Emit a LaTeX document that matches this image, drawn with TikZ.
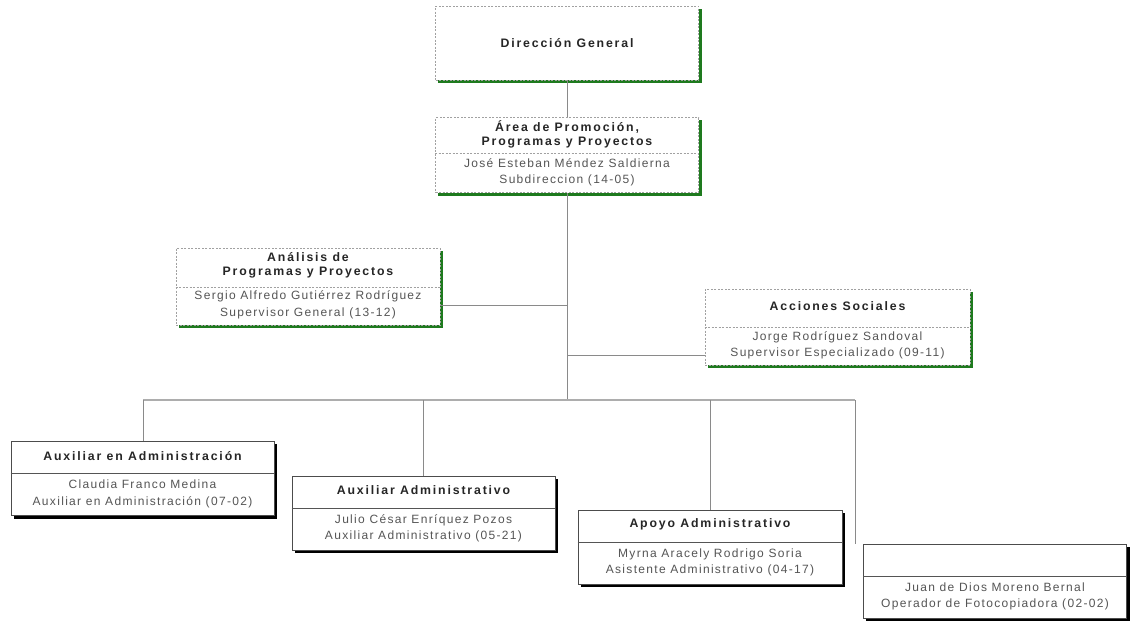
\documentclass[tikz,border=0pt]{standalone}
\usepackage{fontspec}
\setmainfont{Liberation Sans}
\newfontfamily\ttlfont[LetterSpace=15]{Liberation Sans}
\newfontfamily\nmfont[LetterSpace=11]{Liberation Sans}
\usetikzlibrary{calc}
\pgfdeclarelayer{bg}
\pgfsetlayers{bg,main}
\definecolor{shgreen}{HTML}{1E7A1E}
\definecolor{linegray}{HTML}{8A8A8A}
\definecolor{txtgray}{HTML}{555555}
\tikzset{
  dbox/.style={draw=linegray!80, dash pattern=on 2pt off 1.5pt, line width=0.7pt, fill=white},
  sbox/.style={draw=txtgray!90!black, line width=0.8pt, fill=white},
  gshadow/.style={fill=shgreen},
  kshadow/.style={fill=black},
  ttl/.style={font=\ttlfont\fontsize{12.3}{14}\selectfont\bfseries, text=black!85, align=center, inner sep=0},
  nm/.style={font=\nmfont\fontsize{12}{16.5}\selectfont, text=txtgray, align=center, inner sep=0},
  conn/.style={draw=linegray, line width=1pt},
  bus/.style={draw=linegray!70, line width=2pt},
  ddiv/.style={draw=linegray!80, dash pattern=on 2pt off 1.5pt, line width=0.6pt},
  sdiv/.style={draw=txtgray, line width=0.7pt}
}
\begin{document}
\begin{tikzpicture}[x=1pt,y=-1pt]
\useasboundingbox (0,0) rectangle (1131,621);
% boxes
\node[dbox, minimum width=263pt, minimum height=74pt] (dg) at (567,43) {};
\node[ttl] (dgt) at (567,43) {Dirección General};

\node[dbox, minimum width=263pt, minimum height=75pt] (ap) at (567,155) {};
\node[ttl] (apt) at (567,134) {Área de Promoción,\\Programas y Proyectos};
\node[nm] (apn) at (567,172.5) {José Esteban Méndez Saldierna\\Subdireccion (14-05)};

\node[dbox, minimum width=264pt, minimum height=77pt] (an) at (308,286.5) {};
\node[ttl] (ant) at (308,265) {Análisis de\\Programas y Proyectos};
\node[nm] (ann) at (308,305) {Sergio Alfredo Gutiérrez Rodríguez\\Supervisor General (13-12)};

\node[dbox, minimum width=265pt, minimum height=76pt] (as) at (837.5,327) {};
\node[ttl] (ast) at (837.5,306) {Acciones Sociales};
\node[nm] (asn) at (837.5,345.5) {Jorge Rodríguez Sandoval\\Supervisor Especializado (09-11)};

\node[sbox, minimum width=263pt, minimum height=74pt] (b1) at (142.5,478.5) {};
\node[ttl] (b1t) at (142.5,456) {Auxiliar  en Administración};
\node[nm] (b1n) at (142.5,494) {Claudia Franco Medina\\Auxiliar  en Administración (07-02)};

\node[sbox, minimum width=263pt, minimum height=74pt] (b2) at (423.5,513) {};
\node[ttl] (b2t) at (423.5,490) {Auxiliar  Administrativo};
\node[nm] (b2n) at (423.5,528.5) {Julio César Enríquez Pozos\\Auxiliar Administrativo (05-21)};

\node[sbox, minimum width=264pt, minimum height=74pt] (b3) at (710,547) {};
\node[ttl] (b3t) at (710,524) {Apoyo  Administrativo};
\node[nm] (b3n) at (710,562.5) {Myrna Aracely Rodrigo Soria\\Asistente Administrativo (04-17)};

\node[sbox, minimum width=263pt, minimum height=74pt] (b4) at (995,581) {};
\node[nm] (b4n) at (995,596.5) {Juan de Dios Moreno  Bernal\\Operador de Fotocopiadora (02-02)};

% shadows
\begin{pgfonlayer}{bg}
\foreach \b in {dg,ap,an,as}
  \fill[gshadow] ($(\b.south west)+(3,3)$) rectangle ($(\b.north east)+(3,3)$);
\foreach \b in {b1,b2,b3,b4}
  \fill[kshadow] ($(\b.south west)+(3,3)$) rectangle ($(\b.north east)+(3,3)$);
\end{pgfonlayer}

% dividers
\draw[ddiv] (ap.west |- 0,153) -- (ap.east |- 0,153);
\draw[ddiv] (an.west |- 0,287) -- (an.east |- 0,287);
\draw[ddiv] (as.west |- 0,327) -- (as.east |- 0,327);
\draw[sdiv] (b1.west |- 0,473) -- (b1.east |- 0,473);
\draw[sdiv] (b2.west |- 0,508) -- (b2.east |- 0,508);
\draw[sdiv] (b3.west |- 0,542) -- (b3.east |- 0,542);
\draw[sdiv] (b4.west |- 0,576) -- (b4.east |- 0,576);

% connectors
\coordinate (hub) at (567,400);
\coordinate (bl) at (143,400);
\coordinate (br) at (855,400);
\draw[conn] (dg.south) -- (ap.north);
\draw[conn] (ap.south) -- (hub);
\draw[conn] (an.east |- 0,305) -- (hub |- 0,305);
\draw[conn] (hub |- 0,355) -- (as.west |- 0,355);
\draw[bus] (bl) -- (br);
\draw[conn] (bl) -- (b1.north -| bl);
\draw[conn] (b2.north |- hub) -- (b2.north);
\draw[conn] (b3.north |- hub) -- (b3.north);
\draw[conn] (br) -- (b4.north -| br);
\end{tikzpicture}
\end{document}
